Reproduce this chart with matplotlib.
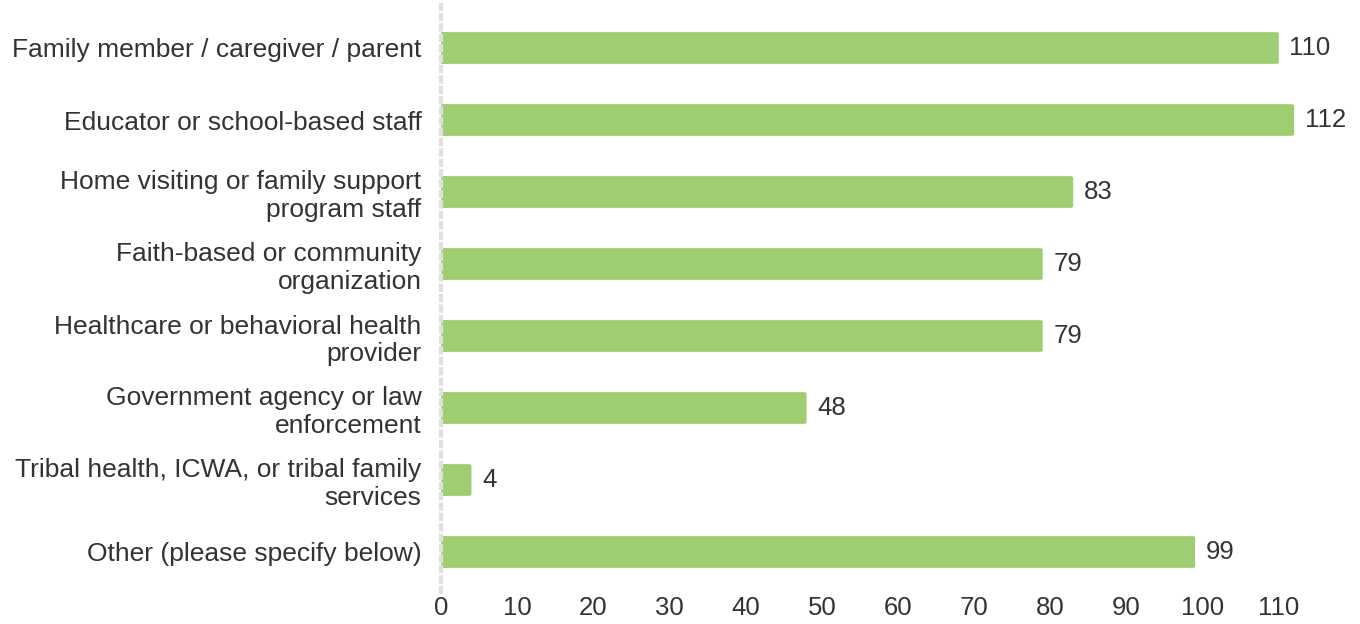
import matplotlib
matplotlib.use("Agg")
import matplotlib.pyplot as plt
from matplotlib.patches import FancyBboxPatch

plt.rcParams['font.family'] = ['Liberation Sans', 'DejaVu Sans']

categories = [
    "Family member / caregiver / parent",
    "Educator or school-based staff",
    "Home visiting or family support\nprogram staff",
    "Faith-based or community\norganization",
    "Healthcare or behavioral health\nprovider",
    "Government agency or law\nenforcement",
    "Tribal health, ICWA, or tribal family\nservices",
    "Other (please specify below)",
]
counts = [110, 112, 83, 79, 79, 48, 4, 99]
x_ticks = list(range(0, 111, 10))

bar_color = "#9fcd72"
text_color = "#333333"
fs = 19

fig = plt.figure(figsize=(13.6, 6.24), dpi=100)
ax = fig.add_axes([441 / 1360, 1 - 588 / 624, (1355 - 441) / 1360, (588 - 12) / 624])

ypos = list(range(len(categories)))
bar_h = 0.44
for y, v in zip(ypos, counts):
    # square left edge, slightly rounded right end
    ax.add_patch(FancyBboxPatch((0, y - bar_h / 2), v, bar_h,
                                boxstyle="round,pad=0,rounding_size=0.35",
                                mutation_aspect=0.06,
                                facecolor=bar_color, edgecolor="none", zorder=2))
    ax.add_patch(plt.Rectangle((0, y - bar_h / 2), min(v, 1.0), bar_h,
                               facecolor=bar_color, edgecolor="none", zorder=2))
    ax.text(v + 1.4, y, str(v), va="center", ha="left", fontsize=18.5, color=text_color)

ax.set_xlim(0, 120)
ax.set_ylim(len(categories) - 0.5, -0.5)
ax.set_yticks(ypos)
ax.set_yticklabels(categories, fontsize=fs, color=text_color, linespacing=1.2)
ax.set_xticks(x_ticks)
ax.set_xticklabels([str(t) for t in x_ticks], fontsize=18.5, color=text_color)
ax.tick_params(axis="both", length=0)
ax.tick_params(axis="y", pad=14)
ax.tick_params(axis="x", pad=6)

for s in ["top", "right", "bottom"]:
    ax.spines[s].set_visible(False)
ax.spines["left"].set_color("#e0e0e0")
ax.spines["left"].set_linewidth(3)
ax.spines["left"].set_linestyle((0, (1.0, 1.5)))
ax.spines["left"].set_bounds(len(categories) - 0.5 + 0.05, -0.5 - 0.1)

fig.savefig("out.png", dpi=100)
